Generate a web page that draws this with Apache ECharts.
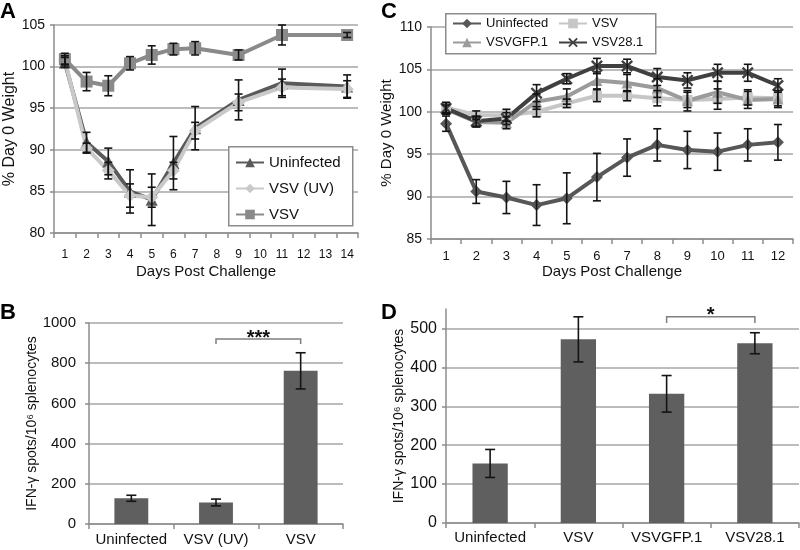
<!DOCTYPE html>
<html><head><meta charset="utf-8">
<script src="https://cdn.jsdelivr.net/npm/echarts@6/dist/echarts.min.js"></script>
<style>html,body{margin:0;padding:0;background:#fff}#c{width:800px;height:550px}</style>
</head><body><div id="c"></div>
<script>
// ---------- Panel A ----------
const daysA = ['1','2','3','4','5','6','7','8','9','10','11','12','13','14'];
const measuredDaysA = ['1','2','3','4','5','6','7','9','11','14'];
const A_uninfected = [100.5, 90.9, 88.6, 85.0, 84.0, 88.4, 92.6, 96.0, 98.0, 97.6];
const A_uninfected_err = [0.6, 1.2, 1.6, 2.6, 3.1, 3.2, 2.6, 2.4, 1.7, 1.4];
const A_uv = [100.8, 90.2, 87.5, 84.5, 84.3, 87.5, 92.3, 95.7, 97.5, 97.3];
const A_uv_err = [0.5, 0.6, 1.0, 1.4, 1.2, 1.0, 1.0, 1.0, 1.0, 1.0];
const A_vsv = [100.9, 98.2, 97.7, 100.4, 101.4, 102.1, 102.2, 101.4, 103.8, 103.8];
const A_vsv_err = [0.7, 1.1, 1.2, 0.8, 1.1, 0.7, 0.8, 0.6, 1.2, 0.3];
const A_yTicks = [80, 105, 5];

// ---------- Panel B ----------
const catsB = ['Uninfected', 'VSV (UV)', 'VSV'];
const B_values = [128, 107, 762];
const B_err = [15, 17, 90];
const B_yTicks = [0, 1000, 200];
const B_sig = ['VSV (UV)', 'VSV', 920, 895, '***'];

// ---------- Panel C ----------
const daysC = ['1','2','3','4','5','6','7','8','9','10','11','12'];
const C_uninfected = [98.6, 90.6, 89.9, 89.0, 89.8, 92.3, 94.6, 96.1, 95.5, 95.3, 96.1, 96.4];
const C_uninfected_err = [0.9, 1.4, 1.9, 2.4, 3.0, 2.8, 2.2, 1.9, 2.2, 2.2, 1.9, 2.1];
const C_vsv = [100.5, 99.6, 99.6, 100.0, 101.0, 101.9, 101.9, 101.6, 101.4, 101.5, 101.7, 101.6];
const C_vsv_err = [0.6, 0.5, 0.7, 0.6, 0.5, 0.7, 0.6, 0.9, 0.9, 1.2, 0.9, 0.9];
const C_gfp = [100.3, 98.8, 98.7, 101.2, 101.8, 103.7, 103.4, 102.8, 101.3, 102.3, 101.4, 101.5];
const C_gfp_err = [0.5, 0.6, 0.7, 0.9, 0.9, 1.0, 1.0, 1.1, 1.2, 1.3, 1.0, 1.0];
const C_28 = [100.4, 98.9, 99.2, 102.2, 103.9, 105.4, 105.4, 104.1, 103.7, 104.6, 104.6, 103.1];
const C_28_err = [0.7, 0.6, 0.7, 1.0, 0.6, 0.9, 0.8, 1.0, 0.9, 1.0, 1.0, 0.8];
const C_yTicks = [85, 110, 5];

// ---------- Panel D ----------
const catsD = ['Uninfected', 'VSV', 'VSVGFP.1', 'VSV28.1'];
const D_values = [153, 472, 332, 462];
const D_err = [36, 58, 47, 27];
const D_yTicks = [0, 550, 100];
const D_sig = ['VSVGFP.1', 'VSV28.1', 530, 514, '*'];

const FF = '"Liberation Sans", Arial, Helvetica, sans-serif';
const GC = '#a6a6a6';
const AX = '#8c8c8c';
const TXT = '#111111';

function yAx(gi, t, name, o) {
  return {
    type: 'value', gridIndex: gi, min: t[0], max: t[1], interval: t[2],
    name: name, nameLocation: 'middle', nameRotate: 90, nameGap: o.nameGap,
    nameTextStyle: { fontSize: o.nameSize, color: TXT, fontFamily: FF },
    axisLine: { show: true, lineStyle: { color: AX, width: 1.5 } },
    axisTick: { show: true, length: 4, lineStyle: { color: AX, width: 1.5 } },
    axisLabel: { fontSize: o.labelSize, color: TXT, margin: o.margin, fontFamily: FF,
      showMaxLabel: o.showMax !== false, formatter: v => String(v) },
    splitLine: { show: true, showMaxLine: o.showMax !== false, lineStyle: { color: GC, width: 1.5 } }
  };
}
function xCat(gi, cats, name, o) {
  return {
    type: 'category', gridIndex: gi, data: cats, boundaryGap: true,
    name: name, nameLocation: 'middle', nameGap: o.nameGap || 0,
    nameTextStyle: { fontSize: 15, color: TXT, fontFamily: FF },
    axisLine: { show: true, lineStyle: { color: AX, width: 1.5 } },
    axisTick: { show: true, length: 5, interval: 0, lineStyle: { color: AX, width: 1.5 } },
    axisLabel: { interval: 0, fontSize: o.labelSize, color: TXT, margin: o.margin, fontFamily: FF },
    splitLine: { show: false }
  };
}
function errorBarItem(half) {
  return function (params, api) {
    const x = api.value(0);
    const p1 = api.coord([x, api.value(1)]);
    const p2 = api.coord([x, api.value(2)]);
    const st = { stroke: '#141414', lineWidth: 1.6 };
    return { type: 'group', children: [
      { type: 'line', shape: { x1: p1[0], y1: p1[1], x2: p2[0], y2: p2[1] }, style: st },
      { type: 'line', shape: { x1: p1[0] - half, y1: p1[1], x2: p1[0] + half, y2: p1[1] }, style: st },
      { type: 'line', shape: { x1: p2[0] - half, y1: p2[1], x2: p2[0] + half, y2: p2[1] }, style: st }
    ]};
  };
}
function bracketItem(fontSize, lift) {
  return function (params, api) {
    const a = api.coord([api.value(0), api.value(2)]);
    const b = api.coord([api.value(1), api.value(2)]);
    const a2 = api.coord([api.value(0), api.value(3)]);
    const b2 = api.coord([api.value(1), api.value(3)]);
    return { type: 'group', children: [
      { type: 'polyline', shape: { points: [a2, a, b, b2] }, style: { stroke: '#7f7f7f', lineWidth: 1.5, fill: null } },
      { type: 'text', x: (a[0] + b[0]) / 2, y: a[1] + lift,
        style: { text: api.value(4), fill: TXT, fontSize: fontSize, fontWeight: 'bold', fontFamily: FF, align: 'center', verticalAlign: 'bottom' } }
    ]};
  };
}
function pts(cats, days, vals) { return days.map((d, i) => [cats.indexOf(d), vals[i]]); }
function errs(cats, days, vals, e) { return days.map((d, i) => [cats.indexOf(d), vals[i] - e[i], vals[i] + e[i]]); }

const xSymbol = 'path://M0,1.4 L1.4,0 L5,3.6 L8.6,0 L10,1.4 L6.4,5 L10,8.6 L8.6,10 L5,6.4 L1.4,10 L0,8.6 L3.6,5 Z';

function lineSeries(name, xi, yi, data, color, symbol, size) {
  return { type: 'line', name: name, xAxisIndex: xi, yAxisIndex: yi, data: data,
    lineStyle: { color: color, width: 4 }, itemStyle: { color: color },
    symbol: symbol, symbolSize: size, showAllSymbol: true, z: 2 };
}

const chart = echarts.init(document.getElementById('c'), null, { renderer: 'canvas' });
const option = {
  animation: false,
  backgroundColor: '#ffffff',
  textStyle: { fontFamily: FF },
  grid: [
    { left: 54, top: 25, width: 304, height: 208 },
    { left: 89, top: 323, width: 254, height: 201 },
    { left: 431, top: 27, width: 362, height: 212 },
    { left: 446, top: 309, width: 353, height: 214 }
  ],
  xAxis: [
    xCat(0, daysA, 'Days Post Challenge', { labelSize: 12, margin: 16, nameGap: 31 }),
    xCat(1, catsB, '', { labelSize: 15, margin: 8 }),
    xCat(2, daysC, 'Days Post Challenge', { labelSize: 13, margin: 11, nameGap: 24 }),
    xCat(3, catsD, '', { labelSize: 15, margin: 7 })
  ],
  yAxis: [
    yAx(0, A_yTicks, '% Day 0 Weight', { nameGap: 36, nameSize: 16, labelSize: 14, margin: 9 }),
    yAx(1, B_yTicks, 'IFN-γ spots/10⁶ splenocytes', { nameGap: 40, nameSize: 14, labelSize: 15, margin: 13 }),
    yAx(2, C_yTicks, '% Day 0 Weight', { nameGap: 36, nameSize: 15, labelSize: 14, margin: 9 }),
    yAx(3, D_yTicks, 'IFN-γ spots/10⁶ splenocytes', { nameGap: 40, nameSize: 14, labelSize: 16, margin: 9, showMax: false })
  ],
  legend: [
    { left: 235, top: 155, orient: 'vertical', padding: 0, itemWidth: 28, itemHeight: 12, itemGap: 11,
      textStyle: { fontSize: 15, color: TXT, fontFamily: FF }, selectedMode: false,
      data: ['Uninfected', 'VSV (UV)', 'VSV'] },
    { left: 452, top: 17, orient: 'vertical', padding: 0, itemWidth: 28, itemHeight: 12, itemGap: 6,
      textStyle: { fontSize: 13, color: TXT, fontFamily: FF }, selectedMode: false,
      formatter: n => n.replace('C:', ''), data: ['C:Uninfected', 'VSVGFP.1'] },
    { left: 558, top: 17, orient: 'vertical', padding: 0, itemWidth: 28, itemHeight: 12, itemGap: 6,
      textStyle: { fontSize: 13, color: TXT, fontFamily: FF }, selectedMode: false,
      formatter: n => n.replace('C:', ''), data: ['C:VSV', 'VSV28.1'] }
  ],
  graphic: [
    { type: 'rect', left: 228, top: 146, shape: { width: 124, height: 79 }, style: { fill: '#fff', stroke: AX, lineWidth: 1.5 }, z: 3 },
    { type: 'rect', left: 445, top: 13, shape: { width: 210, height: 40 }, style: { fill: '#fff', stroke: AX, lineWidth: 1.5 }, z: 3 },
    { type: 'text', left: 0, top: 1, style: { text: 'A', fontSize: 22, fontWeight: 'bold', fill: '#000', fontFamily: FF } },
    { type: 'text', left: 0, top: 302, style: { text: 'B', fontSize: 22, fontWeight: 'bold', fill: '#000', fontFamily: FF } },
    { type: 'text', left: 381, top: 1, style: { text: 'C', fontSize: 22, fontWeight: 'bold', fill: '#000', fontFamily: FF } },
    { type: 'text', left: 381, top: 302, style: { text: 'D', fontSize: 22, fontWeight: 'bold', fill: '#000', fontFamily: FF } }
  ],
  series: [
    lineSeries('Uninfected', 0, 0, pts(daysA, measuredDaysA, A_uninfected), '#5a5a5a', 'triangle', 12),
    lineSeries('VSV (UV)', 0, 0, pts(daysA, measuredDaysA, A_uv), '#c9c9c9', 'diamond', 13),
    lineSeries('VSV', 0, 0, pts(daysA, measuredDaysA, A_vsv), '#8a8a8a', 'rect', 12),
    { type: 'custom', xAxisIndex: 0, yAxisIndex: 0, renderItem: errorBarItem(4), encode: { x: 0, y: [1, 2] }, z: 5,
      data: [].concat(errs(daysA, measuredDaysA, A_uninfected, A_uninfected_err),
                      errs(daysA, measuredDaysA, A_uv, A_uv_err),
                      errs(daysA, measuredDaysA, A_vsv, A_vsv_err)) },

    { type: 'bar', xAxisIndex: 1, yAxisIndex: 1, data: B_values, barWidth: '40%', itemStyle: { color: '#5f5f5f' } },
    { type: 'custom', xAxisIndex: 1, yAxisIndex: 1, renderItem: errorBarItem(5), encode: { x: 0, y: [1, 2] }, z: 5,
      data: errs(catsB, catsB, B_values, B_err) },
    { type: 'custom', xAxisIndex: 1, yAxisIndex: 1, renderItem: bracketItem(20, 9), encode: { x: [0, 1], y: [2, 3] }, z: 5,
      data: [[catsB.indexOf(B_sig[0]), catsB.indexOf(B_sig[1]), B_sig[2], B_sig[3], B_sig[4]]] },

    lineSeries('C:Uninfected', 2, 2, pts(daysC, daysC, C_uninfected), '#575757', 'diamond', 12),
    lineSeries('C:VSV', 2, 2, pts(daysC, daysC, C_vsv), '#c6c6c6', 'rect', 10),
    lineSeries('VSVGFP.1', 2, 2, pts(daysC, daysC, C_gfp), '#9b9b9b', 'triangle', 11),
    lineSeries('VSV28.1', 2, 2, pts(daysC, daysC, C_28), '#404040', xSymbol, 12),
    { type: 'custom', xAxisIndex: 2, yAxisIndex: 2, renderItem: errorBarItem(4), encode: { x: 0, y: [1, 2] }, z: 5,
      data: [].concat(errs(daysC, daysC, C_uninfected, C_uninfected_err),
                      errs(daysC, daysC, C_vsv, C_vsv_err),
                      errs(daysC, daysC, C_gfp, C_gfp_err),
                      errs(daysC, daysC, C_28, C_28_err)) },

    { type: 'bar', xAxisIndex: 3, yAxisIndex: 3, data: D_values, barWidth: '40%', itemStyle: { color: '#5f5f5f' } },
    { type: 'custom', xAxisIndex: 3, yAxisIndex: 3, renderItem: errorBarItem(5), encode: { x: 0, y: [1, 2] }, z: 5,
      data: errs(catsD, catsD, D_values, D_err) },
    { type: 'custom', xAxisIndex: 3, yAxisIndex: 3, renderItem: bracketItem(20, 9), encode: { x: [0, 1], y: [2, 3] }, z: 5,
      data: [[catsD.indexOf(D_sig[0]), catsD.indexOf(D_sig[1]), D_sig[2], D_sig[3], D_sig[4]]] }
  ]
};
chart.setOption(option);
</script></body></html>
